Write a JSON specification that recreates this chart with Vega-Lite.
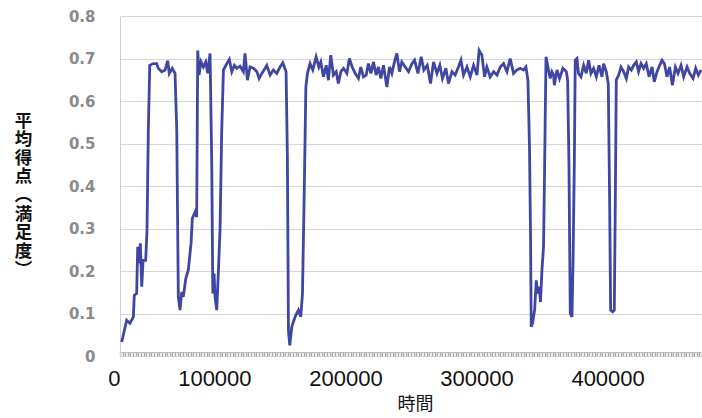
{
  "$schema": "https://vega.github.io/schema/vega-lite/v6.json",
  "width": 582,
  "height": 340,
  "autosize": "none",
  "padding": {"left": 120, "top": 16, "right": 0, "bottom": 62},
  "background": "white",
  "config": {"view": {"stroke": null}},
  "data": {"values": [
    {"t": 1300, "s": 0.033}, {"t": 5100, "s": 0.084}, {"t": 7600, "s": 0.077}, {"t": 10200, "s": 0.092},
    {"t": 10900, "s": 0.143}, {"t": 12700, "s": 0.147}, {"t": 13500, "s": 0.257}, {"t": 14500, "s": 0.218},
    {"t": 15500, "s": 0.265}, {"t": 16600, "s": 0.163}, {"t": 17600, "s": 0.225}, {"t": 19600, "s": 0.225},
    {"t": 20600, "s": 0.296}, {"t": 21600, "s": 0.53}, {"t": 22700, "s": 0.684}, {"t": 25400, "s": 0.688},
    {"t": 28000, "s": 0.688}, {"t": 29200, "s": 0.677}, {"t": 31800, "s": 0.669}, {"t": 34400, "s": 0.673},
    {"t": 36400, "s": 0.695}, {"t": 37600, "s": 0.665}, {"t": 39900, "s": 0.677}, {"t": 42000, "s": 0.665},
    {"t": 43300, "s": 0.53}, {"t": 44500, "s": 0.139}, {"t": 45800, "s": 0.108}, {"t": 47100, "s": 0.151},
    {"t": 48300, "s": 0.139}, {"t": 50200, "s": 0.182}, {"t": 52100, "s": 0.202}, {"t": 54200, "s": 0.265},
    {"t": 55200, "s": 0.324}, {"t": 57300, "s": 0.339}, {"t": 58500, "s": 0.327}, {"t": 59300, "s": 0.719},
    {"t": 60300, "s": 0.661}, {"t": 61800, "s": 0.692}, {"t": 63600, "s": 0.68}, {"t": 65400, "s": 0.692},
    {"t": 66900, "s": 0.665}, {"t": 68700, "s": 0.712}, {"t": 70000, "s": 0.453}, {"t": 70800, "s": 0.147},
    {"t": 71800, "s": 0.194}, {"t": 72500, "s": 0.139}, {"t": 73800, "s": 0.108}, {"t": 75000, "s": 0.194},
    {"t": 76300, "s": 0.296}, {"t": 77600, "s": 0.53}, {"t": 78900, "s": 0.673}, {"t": 81500, "s": 0.688},
    {"t": 83400, "s": 0.698}, {"t": 85300, "s": 0.669}, {"t": 87300, "s": 0.684}, {"t": 89100, "s": 0.677},
    {"t": 91600, "s": 0.682}, {"t": 94100, "s": 0.669}, {"t": 95400, "s": 0.712}, {"t": 97200, "s": 0.649},
    {"t": 99200, "s": 0.68}, {"t": 101800, "s": 0.677}, {"t": 104400, "s": 0.669}, {"t": 106100, "s": 0.653},
    {"t": 108200, "s": 0.665}, {"t": 110700, "s": 0.677}, {"t": 112000, "s": 0.684}, {"t": 114500, "s": 0.661},
    {"t": 117000, "s": 0.673}, {"t": 119600, "s": 0.665}, {"t": 122100, "s": 0.68}, {"t": 124200, "s": 0.69},
    {"t": 126700, "s": 0.669}, {"t": 127700, "s": 0.469}, {"t": 128500, "s": 0.061}, {"t": 129500, "s": 0.025},
    {"t": 131100, "s": 0.069}, {"t": 133600, "s": 0.092}, {"t": 136100, "s": 0.108}, {"t": 137900, "s": 0.092},
    {"t": 139200, "s": 0.147}, {"t": 140500, "s": 0.375}, {"t": 141800, "s": 0.633}, {"t": 143000, "s": 0.665},
    {"t": 145000, "s": 0.688}, {"t": 147100, "s": 0.673}, {"t": 149600, "s": 0.704}, {"t": 151700, "s": 0.68},
    {"t": 153200, "s": 0.692}, {"t": 155200, "s": 0.657}, {"t": 157300, "s": 0.684}, {"t": 159000, "s": 0.649},
    {"t": 160800, "s": 0.708}, {"t": 162800, "s": 0.661}, {"t": 164900, "s": 0.669}, {"t": 166600, "s": 0.641},
    {"t": 168500, "s": 0.669}, {"t": 170500, "s": 0.677}, {"t": 173100, "s": 0.665}, {"t": 175000, "s": 0.7},
    {"t": 177100, "s": 0.68}, {"t": 179400, "s": 0.665}, {"t": 181900, "s": 0.653}, {"t": 183700, "s": 0.68},
    {"t": 185700, "s": 0.657}, {"t": 187800, "s": 0.661}, {"t": 189500, "s": 0.688}, {"t": 191400, "s": 0.665},
    {"t": 193400, "s": 0.692}, {"t": 195400, "s": 0.661}, {"t": 197200, "s": 0.68}, {"t": 199000, "s": 0.653},
    {"t": 201000, "s": 0.684}, {"t": 203600, "s": 0.633}, {"t": 205600, "s": 0.68}, {"t": 207400, "s": 0.665},
    {"t": 209400, "s": 0.692}, {"t": 211200, "s": 0.712}, {"t": 213200, "s": 0.669}, {"t": 215000, "s": 0.692},
    {"t": 217600, "s": 0.68}, {"t": 220100, "s": 0.669}, {"t": 222700, "s": 0.688}, {"t": 224700, "s": 0.696},
    {"t": 227300, "s": 0.665}, {"t": 229800, "s": 0.704}, {"t": 231800, "s": 0.673}, {"t": 234400, "s": 0.684},
    {"t": 236900, "s": 0.641}, {"t": 239200, "s": 0.692}, {"t": 241800, "s": 0.665}, {"t": 244000, "s": 0.684},
    {"t": 246000, "s": 0.653}, {"t": 248600, "s": 0.677}, {"t": 250600, "s": 0.641}, {"t": 253200, "s": 0.669},
    {"t": 255700, "s": 0.661}, {"t": 258200, "s": 0.68}, {"t": 260100, "s": 0.696}, {"t": 262100, "s": 0.661},
    {"t": 264700, "s": 0.68}, {"t": 267200, "s": 0.657}, {"t": 269700, "s": 0.684}, {"t": 272300, "s": 0.661},
    {"t": 274000, "s": 0.719}, {"t": 276100, "s": 0.708}, {"t": 278100, "s": 0.657}, {"t": 279900, "s": 0.68},
    {"t": 282400, "s": 0.657}, {"t": 285000, "s": 0.669}, {"t": 287600, "s": 0.661}, {"t": 290100, "s": 0.68},
    {"t": 292600, "s": 0.688}, {"t": 295200, "s": 0.669}, {"t": 297700, "s": 0.7}, {"t": 300200, "s": 0.665},
    {"t": 302800, "s": 0.673}, {"t": 305300, "s": 0.677}, {"t": 307900, "s": 0.673}, {"t": 309700, "s": 0.68},
    {"t": 311200, "s": 0.649}, {"t": 312400, "s": 0.492}, {"t": 313200, "s": 0.28}, {"t": 313700, "s": 0.069},
    {"t": 314700, "s": 0.077}, {"t": 316300, "s": 0.108}, {"t": 317600, "s": 0.178}, {"t": 318600, "s": 0.147},
    {"t": 319800, "s": 0.163}, {"t": 320800, "s": 0.127}, {"t": 321900, "s": 0.202}, {"t": 323100, "s": 0.257},
    {"t": 323900, "s": 0.437}, {"t": 325000, "s": 0.704}, {"t": 326900, "s": 0.673}, {"t": 328200, "s": 0.653},
    {"t": 329500, "s": 0.669}, {"t": 330800, "s": 0.661}, {"t": 331300, "s": 0.637}, {"t": 333400, "s": 0.673},
    {"t": 335300, "s": 0.653}, {"t": 337900, "s": 0.677}, {"t": 340500, "s": 0.669}, {"t": 341500, "s": 0.649},
    {"t": 342500, "s": 0.453}, {"t": 343500, "s": 0.1}, {"t": 344800, "s": 0.092}, {"t": 345600, "s": 0.218},
    {"t": 346600, "s": 0.453}, {"t": 347300, "s": 0.696}, {"t": 348600, "s": 0.7}, {"t": 349800, "s": 0.665},
    {"t": 351700, "s": 0.657}, {"t": 353700, "s": 0.684}, {"t": 355700, "s": 0.665}, {"t": 357500, "s": 0.696},
    {"t": 359300, "s": 0.665}, {"t": 361300, "s": 0.677}, {"t": 363400, "s": 0.657}, {"t": 365400, "s": 0.684},
    {"t": 367700, "s": 0.657}, {"t": 368900, "s": 0.688}, {"t": 371000, "s": 0.669}, {"t": 372500, "s": 0.641},
    {"t": 373500, "s": 0.375}, {"t": 374300, "s": 0.108}, {"t": 375800, "s": 0.104}, {"t": 377100, "s": 0.108},
    {"t": 377900, "s": 0.375}, {"t": 378600, "s": 0.649}, {"t": 380400, "s": 0.661}, {"t": 382200, "s": 0.68},
    {"t": 384200, "s": 0.669}, {"t": 386300, "s": 0.653}, {"t": 388000, "s": 0.68}, {"t": 390100, "s": 0.673},
    {"t": 391800, "s": 0.684}, {"t": 393900, "s": 0.692}, {"t": 395600, "s": 0.669}, {"t": 397500, "s": 0.688},
    {"t": 399500, "s": 0.677}, {"t": 401500, "s": 0.688}, {"t": 403600, "s": 0.657}, {"t": 405900, "s": 0.68},
    {"t": 407600, "s": 0.645}, {"t": 409700, "s": 0.669}, {"t": 411700, "s": 0.684}, {"t": 413500, "s": 0.696},
    {"t": 415300, "s": 0.688}, {"t": 417300, "s": 0.657}, {"t": 419300, "s": 0.68}, {"t": 421400, "s": 0.637},
    {"t": 423700, "s": 0.68}, {"t": 425700, "s": 0.665}, {"t": 428000, "s": 0.684}, {"t": 430000, "s": 0.657},
    {"t": 432600, "s": 0.68}, {"t": 434600, "s": 0.665}, {"t": 437200, "s": 0.653}, {"t": 439200, "s": 0.677},
    {"t": 441200, "s": 0.661}, {"t": 443300, "s": 0.673}
  ]},
  "mark": {"type": "line", "color": "#3f47a2", "strokeWidth": 2.8, "clip": true},
  "encoding": {
    "x": {
      "field": "t", "type": "quantitative",
      "scale": {"domain": [0, 444000], "nice": false, "zero": false},
      "axis": {
        "title": "時間",
        "titleFont": "Noto Sans CJK JP", "titleFontSize": 18, "titleFontWeight": "normal", "titleColor": "#111",
        "titleX": 295, "titleY": 52, "titleAlign": "center", "titleBaseline": "middle",
        "tickCount": 200, "format": "d",
        "labelExpr": "datum.value % 100000 === 0 ? datum.label : ''",
        "labelOverlap": false, "labelFlush": false, "labelBound": false,
        "labelAlign": "right", "labelDx": 7,
        "labelFont": "Liberation Sans", "labelFontSize": 22, "labelColor": "#111",
        "labelPadding": 12,
        "offset": -4,
        "ticks": true, "tickSize": 4, "tickColor": "#a8a8a8", "tickWidth": 1.4,
        "domain": true, "domainColor": "#bdbdbd", "domainWidth": 1,
        "grid": false
      }
    },
    "y": {
      "field": "s", "type": "quantitative",
      "scale": {"domain": [0, 0.8], "nice": false},
      "axis": {
        "title": ["平", "均", "得", "点", "︵", "満", "足", "度", "︶"],
        "titleFont": "Noto Sans CJK JP", "titleFontSize": 17.5, "titleFontWeight": "bold", "titleColor": "#111",
        "titleAngle": 0, "titleLineHeight": 18.6,
        "titleX": -97, "titleY": 96, "titleAlign": "center", "titleBaseline": "top",
        "values": [0, 0.1, 0.2, 0.3, 0.4, 0.5, 0.6, 0.7, 0.8],
        "format": ".1~f",
        "labelFont": "DejaVu Sans", "labelFontWeight": "bold", "labelFontSize": 15, "labelColor": "#8a8a8a",
        "labelPadding": 25,
        "ticks": false,
        "domain": true, "domainColor": "#cfcfcf",
        "grid": true, "gridColor": "#d6d6d6", "gridWidth": 1
      }
    }
  }
}
